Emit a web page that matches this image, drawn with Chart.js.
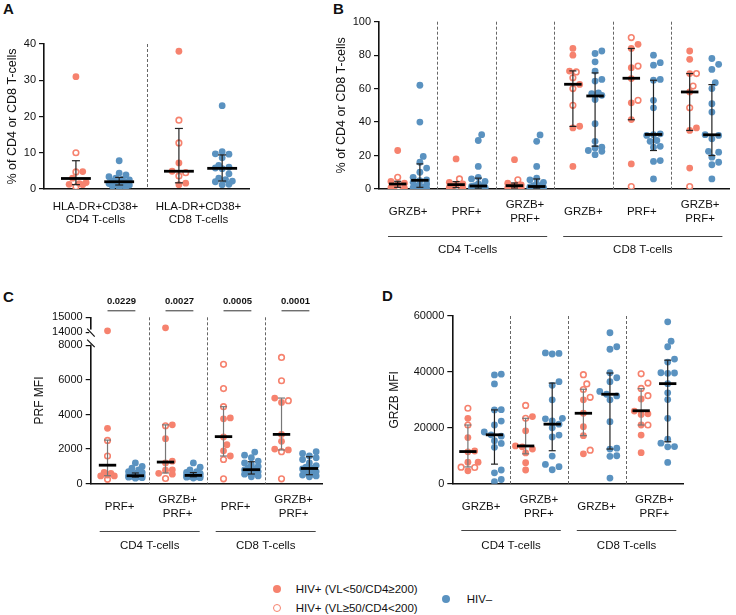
<!DOCTYPE html>
<html>
<head>
<meta charset="utf-8">
<script src="https://cdn.jsdelivr.net/npm/chart.js@4.4.1/dist/chart.umd.min.js"></script>
<style>
  body { margin: 0; background: #fff; width: 736px; height: 615px; position: relative; overflow: hidden;
         font-family: "Liberation Sans", Arial, sans-serif; color: #111; }
  canvas { position: absolute; }
  .panel { position: absolute; font-weight: bold; font-size: 15px; line-height: 16px; }
  .leg { position: absolute; font-size: 11.5px; line-height: 14px; white-space: nowrap; }
  .dot { position: absolute; width: 8.5px; height: 8.5px; border-radius: 50%; box-sizing: border-box; }
</style>
</head>
<body>
<div class="panel" style="left:3px;top:1px">A</div>
<div class="panel" style="left:333px;top:1px">B</div>
<div class="panel" style="left:3px;top:289px">C</div>
<div class="panel" style="left:382px;top:288px">D</div>

<canvas id="cA"></canvas>
<canvas id="cB"></canvas>
<canvas id="cC"></canvas>
<canvas id="cD"></canvas>

<div class="dot" style="left:272.5px;top:584.8px;background:#F6826E"></div>
<div class="leg" style="left:295.7px;top:582px">HIV+ (VL&lt;50/CD4≥200)</div>
<div class="dot" style="left:272.5px;top:603.8px;border:1.6px solid #F6826E;background:#fff"></div>
<div class="leg" style="left:295.7px;top:601px">HIV+ (VL≥50/CD4&lt;200)</div>
<div class="dot" style="left:441.8px;top:594.8px;background:#5A92C0"></div>
<div class="leg" style="left:466.7px;top:592px">HIV–</div>

<script>
// ---------- data ----------
// panel A
const aCats = [['HLA-DR+CD38+', 'CD4 T-cells'], ['HLA-DR+CD38+', 'CD8 T-cells']];
const aYTicks = [0, 10, 20, 30, 40];
const aRedFilled = [[31, 4.8, 3.0, 1.8, 1.5, 1.3, 1.2], [38, 7.2, 4.9, 1.6, 1.2]];
const aRedOpen = [[10, 4.7, 0.6], [19, 12.7, 4.5, 3.6]];
const aBlue = [
  [7.8, 4.4, 3.9, 3.4, 3.0, 2.7, 2.5, 2.2, 2.0, 1.8, 1.5, 1.3, 1.1, 1.0, 0.8, 0.6, 0.5],
  [23, 10.3, 9.7, 9.6, 8.6, 6.5, 6.0, 5.8, 5.6, 4.2, 3.0, 2.6, 2.2, 2.0, 1.3, 1.2]
];
// [q1, median, q3]
const aRedStats = [[1.2, 2.9, 7.8], [1.7, 4.9, 16.7]];
const aBlueStats = [[1.1, 2.0, 3.2], [2.2, 5.7, 9.4]];

// panel B
const bCats = ['GRZB+', 'PRF+', ['GRZB+', 'PRF+'], 'GRZB+', 'PRF+', ['GRZB+', 'PRF+']];
const bGroups = ['CD4 T-cells', 'CD8 T-cells'];
const bYTicks = [0, 20, 40, 60, 80, 100];
const bRedFilled = [
  [23, 4.5, 3.5, 2.5, 1.5, 0.8, 0.5],
  [18, 4, 3, 2.5, 1.5, 1, 0.5],
  [17.5, 3.5, 2.5, 2, 1.2, 0.8, 0.4],
  [84, 80, 70.5, 62.5, 37.5, 36.5, 13.5],
  [86.5, 84, 72.5, 66, 51.5, 41.5, 15],
  [82.5, 77.5, 69, 58, 36.5, 35, 12.5]
];
const bRedOpen = [[7, 1.0, 0.3], [6, 1.2, 0.4], [5.5, 1, 0.3], [70, 66.5, 60, 50], [90.5, 73.5, 53, 1.5], [69, 61.5, 48.5, 1.5]];
const bBlue = [
  [62, 40, 19.5, 16, 12.5, 10, 7, 5.5, 5, 4, 3, 2, 1.5, 1, 0.8, 0.5, 0.3],
  [32.5, 29, 13.5, 7, 6, 4.5, 3, 2, 1.8, 1.5, 1, 0.8, 0.6, 0.5, 0.4, 0.3, 0.2],
  [32.3, 28.5, 13.5, 6.5, 5.5, 4, 3, 2, 1.5, 1.3, 1, 0.8, 0.6, 0.5, 0.4, 0.3, 0.2],
  [82.5, 81, 76, 70.5, 65.5, 64.5, 57.5, 57, 56, 53.5, 39, 28.5, 25, 24.5, 23, 22.5, 20.5],
  [80, 75.5, 74, 65.5, 65, 53, 48.5, 33, 32.5, 32, 29, 28.5, 25.5, 25, 17, 16.5, 6],
  [78, 74.5, 71.5, 63.5, 60, 51, 46, 32.5, 32, 30, 22.5, 22, 19, 16, 14.5, 6]
];
const bRedStats = [[1, 3, 4.6], [0.8, 2.6, 4.4], [0.6, 2, 3.6], [37.4, 62.6, 70.6], [41.4, 66.2, 84], [35, 58, 69]];
const bBlueStats = [[1, 5.2, 15], [0.5, 1.8, 6.5], [0.5, 1.5, 6], [25.6, 55.6, 69.4], [23, 32.6, 65], [20, 32.4, 62.4]];

// panel C
const cCats = ['PRF+', ['GRZB+', 'PRF+'], 'PRF+', ['GRZB+', 'PRF+']];
const cGroups = ['CD4 T-cells', 'CD8 T-cells'];
const cYTicks = [0, 2000, 4000, 6000, 8000];
const cYTopTicks = [14000, 15000];
const cPValues = ['0.0229', '0.0027', '0.0005', '0.0001'];
const cRedFilled = [
  [14100, 3200, 650, 600, 500, 450, 450],
  [14300, 3400, 2600, 1300, 1200, 800, 780, 600, 550],
  [3800, 3750, 2700, 2250, 1900, 1600],
  [4950, 4700, 2850, 2450, 2000, 1950]
];
const cRedOpen = [[2500, 1600, 250], [3350, 300], [6900, 5500, 4450, 1400, 280], [7300, 5950, 4800, 1850, 280]];
const cBlue = [
  [1200, 1000, 900, 800, 700, 650, 600, 550, 500, 480, 460, 440, 420, 400, 380, 350, 320],
  [1200, 950, 800, 700, 650, 600, 550, 520, 500, 480, 460, 440, 420, 400, 380, 350, 330],
  [1830, 1650, 1500, 1300, 1200, 1100, 1000, 900, 850, 800, 750, 700, 650, 600, 550, 450, 400],
  [1850, 1750, 1600, 1500, 1400, 1200, 1050, 950, 880, 850, 800, 700, 650, 550, 500, 450, 400]
];
const cRedStats = [[460, 1070, 2520], [620, 1250, 3400], [1600, 2720, 4450], [1950, 2850, 4950]];
const cBlueStats = [[380, 460, 620], [400, 480, 640], [560, 810, 1270], [520, 880, 1560]];

// panel D
const dCats = ['GRZB+', ['GRZB+', 'PRF+'], 'GRZB+', ['GRZB+', 'PRF+']];
const dGroups = ['CD4 T-cells', 'CD8 T-cells'];
const dYTicks = [0, 20000, 40000, 60000];
const dRedFilled = [
  [23400, 16500, 11700, 11400, 7700, 7700, 4600],
  [24000, 18900, 13500, 13200, 12400, 11000, 7500, 4900],
  [30000, 25200, 20400, 17200, 10700],
  [30300, 26000, 25000, 24800, 21000, 17400, 11100]
];
const dRedOpen = [[27000, 21000, 5900, 5800], [28000, 23400], [39000, 35700, 33700, 30900, 12000], [39300, 36000, 34100, 31500, 21000]];
const dBlue = [
  [39200, 38900, 35700, 26500, 26400, 22400, 21000, 18500, 17500, 17000, 15400, 14400, 13000, 4900, 3900, 1500, 700],
  [46800, 46600, 46400, 36500, 35200, 30000, 23400, 23200, 22500, 21300, 20000, 17400, 16700, 9900, 6900, 6100, 5000],
  [54000, 49000, 48100, 39700, 37900, 36500, 33000, 32000, 31400, 30000, 22200, 12700, 12400, 10000, 9800, 2000],
  [57900, 51000, 49000, 44600, 43500, 39700, 39600, 39500, 35800, 32500, 30100, 23400, 15900, 14500, 13300, 13200, 7600]
];
const dRedStats = [[6000, 11500, 21000], [10700, 13500, 23400], [17200, 25200, 33800], [21000, 26100, 34000]];
const dBlueStats = [[7000, 17500, 26400], [11800, 21300, 36000], [12400, 32000, 39600], [15000, 35800, 44200]];

// ---------- styling / layout ----------
const RED = '#F6826E';
const BLUE = '#5A92C0';
const FONT = '"Liberation Sans", Arial, sans-serif';
const R = 3.4;

Chart.defaults.font.family = FONT;
Chart.defaults.color = '#111';

const panels = {
  cA: {
    left: 0, top: 0, w: 262, h: 232, area: { l: 44, r: 250, t: 44, b: 189 },
    yMin: 0, yMax: 40, yTicks: aYTicks, yTitle: '% of CD4 or CD8 T-cells', titleSize: 12.5, titlePad: 5.5,
    cats: aCats, labelPad: 17.7,
    redFilled: aRedFilled, redOpen: aRedOpen, blue: aBlue, redStats: aRedStats, blueStats: aBlueStats,
    redOff: -0.19, blueOff: 0.23, medHalf: 0.145, cap: 4, maxOff: 13, redBar: '#222'
  },
  cB: {
    left: 328, top: 0, w: 408, h: 270, area: { l: 379, r: 731.7, t: 21.7, b: 189 },
    yMin: 0, yMax: 100, yTicks: bYTicks, yTitle: '% of CD4 or CD8 T-cells', titleSize: 12.5, titlePad: 6.2,
    cats: bCats, labelPad: 16, groups: bGroups, brackets: [[0, 3], [3, 6]], brLine: 47, brText: 61,
    redFilled: bRedFilled, redOpen: bRedOpen, blue: bBlue, redStats: bRedStats, blueStats: bBlueStats,
    redOff: -0.18, blueOff: 0.2, medHalf: 0.15, cap: 3.5, maxOff: 10, redBar: '#222'
  },
  cC: {
    left: 0, top: 282, w: 335, h: 290, area: { l: 90.7, r: 322.7, t: 317.3, b: 483.7 },
    yMin: 0, yMax: 8100, yTicks: cYTicks, topMin: 13250, topMax: 15000, topTicks: cYTopTicks, splitAt: 10000,
    topPx: 26.25, titleText: 'PRF MFI', titleX: 40, titleSize: 12,
    cats: cCats, labelPad: 16.3, groups: cGroups, brackets: [[0, 2], [2, 4]], brLine: 47.3, brText: 62.3,
    pvalues: cPValues,
    redFilled: cRedFilled, redOpen: cRedOpen, blue: cBlue, redStats: cRedStats, blueStats: cBlueStats,
    redOff: -0.21, blueOff: 0.27, medHalf: 0.15, cap: 3.5, maxOff: 9, redBar: '#777'
  },
  cD: {
    left: 370, top: 282, w: 366, h: 290, area: { l: 452.3, r: 683.3, t: 316, b: 483.7 },
    yMin: 0, yMax: 60000, yTicks: dYTicks, yTitle: 'GRZB MFI', titleSize: 12, titlePad: 17.5,
    cats: dCats, labelPad: 16.3, groups: dGroups, brackets: [[0, 2], [2, 4]], brLine: 46.3, brText: 62.3,
    redFilled: dRedFilled, redOpen: dRedOpen, blue: dBlue, redStats: dRedStats, blueStats: dBlueStats,
    redOff: -0.23, blueOff: 0.23, medHalf: 0.15, cap: 3.5, maxOff: 11, redBar: '#777'
  }
};

// spread points of one series sideways so the dots do not pile up
function swarm(vals, center, p) {
  const n = p.cats.length;
  const pxX = (p.area.r - p.area.l) / n;
  const lowH = p.area.b - p.area.t - (p.topPx || 0);
  const pxY = lowH / (p.yMax - p.yMin);
  const cand = [0];
  for (let k = 1; k * R <= p.maxOff; k++) cand.push(k * R, -k * R);
  const placed = [];
  const out = new Array(vals.length);
  const order = vals.map((v, i) => i).sort((a, b) => vals[a] - vals[b]);
  order.forEach(i => {
    const py = vals[i] * pxY;
    let best = 0, bestD = -1;
    for (const off of cand) {
      let d = Infinity;
      placed.forEach(q => { d = Math.min(d, Math.hypot(q.x - off, q.y - py)); });
      if (d >= 2 * R * 0.95) { best = off; bestD = d; break; }
      if (d > bestD) { bestD = d; best = off; }
    }
    placed.push({ x: best, y: py });
    out[i] = center + best / pxX;
  });
  return out;
}

function buildDatasets(p) {
  const rf = [], ro = [], bl = [], top = [];
  p.cats.forEach((c, g) => {
    const reds = p.redFilled[g].map(v => ({ v, open: false })).concat(p.redOpen[g].map(v => ({ v, open: true })));
    const high = reds.filter(r => p.splitAt && r.v > p.splitAt);
    const low = reds.filter(r => !(p.splitAt && r.v > p.splitAt));
    const rc = g + 0.5 + p.redOff;
    const rx = swarm(low.map(r => r.v), rc, p);
    low.forEach((r, i) => (r.open ? ro : rf).push({ x: rx[i], y: r.v }));
    high.forEach(r => top.push({ x: rc, y: r.v }));
    const bc = g + 0.5 + p.blueOff;
    const bx = swarm(p.blue[g], bc, p);
    p.blue[g].forEach((v, i) => bl.push({ x: bx[i], y: v }));
  });
  const filled = { pointRadius: R, pointBackgroundColor: RED, pointBorderWidth: 0, pointBorderColor: RED };
  const sets = [
    Object.assign({ label: 'HIV+ (VL<50/CD4≥200)', data: rf, yAxisID: 'y' }, filled),
    { label: 'HIV+ (VL≥50/CD4<200)', data: ro, yAxisID: 'y', pointRadius: R - 0.6, pointBackgroundColor: '#fff', pointBorderColor: RED, pointBorderWidth: 1.6 },
    { label: 'HIV–', data: bl, yAxisID: 'y', pointRadius: R, pointBackgroundColor: BLUE, pointBorderWidth: 0, pointBorderColor: BLUE }
  ];
  if (top.length) sets.push(Object.assign({ label: 'HIV+ (VL<50/CD4≥200)', data: top, yAxisID: 'yTop' }, filled));
  return sets;
}

function yAxis(p, min, max, ticks, extra) {
  return Object.assign({
    type: 'linear', position: 'left', min: min, max: max,
    afterBuildTicks: s => { s.ticks = ticks.map(v => ({ value: v })); },
    ticks: { font: { size: 11 }, color: '#111', padding: 3, callback: v => String(v) },
    grid: { display: true, drawOnChartArea: false, drawTicks: true, tickLength: 5, color: '#111', lineWidth: 1.2 },
    border: { color: '#111', width: 1.6 },
    afterFit: s => { s.width = p.area.l - p.left; }
  }, extra || {});
}

function line(ctx, x1, y1, x2, y2) {
  ctx.beginPath(); ctx.moveTo(x1, y1); ctx.lineTo(x2, y2); ctx.stroke();
}

const decor = {
  id: 'decor',
  beforeDatasetsDraw(chart) {
    const p = panels[chart.canvas.id], ctx = chart.ctx, a = chart.chartArea, xs = chart.scales.x;
    ctx.save();
    ctx.strokeStyle = '#666'; ctx.lineWidth = 1; ctx.setLineDash([3, 2]);
    for (let i = 1; i < p.cats.length; i++) {
      const x = Math.round(xs.getPixelForValue(i)) + 0.5;
      line(ctx, x, a.top, x, a.bottom);
    }
    ctx.restore();
  },
  afterDatasetsDraw(chart) {
    const p = panels[chart.canvas.id], ctx = chart.ctx, xs = chart.scales.x, ys = chart.scales.y;
    ctx.save();
    const bar = (center, st, color) => {
      const x = xs.getPixelForValue(center);
      const y1 = ys.getPixelForValue(st[0]), ym = ys.getPixelForValue(st[1]), y3 = ys.getPixelForValue(st[2]);
      ctx.strokeStyle = color; ctx.lineWidth = 1.2;
      line(ctx, x, y1, x, y3);
      line(ctx, x - p.cap, y1, x + p.cap, y1);
      line(ctx, x - p.cap, y3, x + p.cap, y3);
      ctx.strokeStyle = '#000'; ctx.lineWidth = 2.8;
      line(ctx, xs.getPixelForValue(center - p.medHalf), ym, xs.getPixelForValue(center + p.medHalf), ym);
    };
    p.cats.forEach((c, g) => {
      bar(g + 0.5 + p.redOff, p.redStats[g], p.redBar);
      bar(g + 0.5 + p.blueOff, p.blueStats[g], '#222');
    });
    ctx.restore();
  },
  afterDraw(chart) {
    const p = panels[chart.canvas.id], ctx = chart.ctx, a = chart.chartArea, xs = chart.scales.x;
    ctx.save();
    ctx.fillStyle = '#111';
    if (p.brackets) {
      ctx.font = '11.5px ' + FONT; ctx.textAlign = 'center'; ctx.textBaseline = 'middle';
      ctx.strokeStyle = '#444'; ctx.lineWidth = 1;
      p.brackets.forEach((br, i) => {
        const x1 = xs.getPixelForValue(br[0]) + 9, x2 = xs.getPixelForValue(br[1]) - 7;
        const y = Math.round(a.bottom + p.brLine) + 0.5;
        line(ctx, x1, y, x2, y);
        ctx.fillText(p.groups[i], (x1 + x2) / 2, a.bottom + p.brText);
      });
    }
    if (p.pvalues) {
      ctx.font = 'bold 9.5px ' + FONT; ctx.textAlign = 'center'; ctx.textBaseline = 'middle';
      ctx.strokeStyle = '#333'; ctx.lineWidth = 1;
      p.pvalues.forEach((t, g) => {
        const x1 = xs.getPixelForValue(g + 0.5 + p.redOff), x2 = xs.getPixelForValue(g + 0.5 + p.blueOff);
        line(ctx, x1, a.top - 6.5, x2, a.top - 6.5);
        ctx.fillText(t, (x1 + x2) / 2, a.top - 16);
      });
    }
    if (p.titleText) {
      ctx.font = p.titleSize + 'px ' + FONT; ctx.textAlign = 'center'; ctx.textBaseline = 'middle';
      ctx.translate(p.titleX - p.left, (a.top + a.bottom) / 2);
      ctx.rotate(-Math.PI / 2);
      ctx.fillText(p.titleText, 0, 0);
      ctx.setTransform(1, 0, 0, 1, 0, 0);
    }
    if (p.topTicks) {
      // axis break marks
      const yb = chart.scales.yTop.bottom, x = a.left;
      ctx.fillStyle = '#fff';
      ctx.fillRect(x - 1.5, yb - 14, 3, 15);
      ctx.strokeStyle = '#111'; ctx.lineWidth = 1.2;
      line(ctx, x - 3.5, yb - 15, x + 4, yb - 7);
      line(ctx, x - 3.5, yb - 4, x + 4, yb + 3.5);
    }
    ctx.restore();
  }
};

function makePanel(id) {
  const p = panels[id];
  const cv = document.getElementById(id);
  cv.width = p.w; cv.height = p.h;
  cv.style.left = p.left + 'px'; cv.style.top = p.top + 'px';
  cv.style.width = p.w + 'px'; cv.style.height = p.h + 'px';
  const n = p.cats.length;
  const scales = {};
  if (p.topTicks) {
    // the scale defined last in a stack sits on top
    scales.y = yAxis(p, p.yMin, p.yMax, p.yTicks, { stack: 'y', stackWeight: p.area.b - p.area.t - p.topPx });
    scales.yTop = yAxis(p, p.topMin, p.topMax, p.topTicks, { stack: 'y', stackWeight: p.topPx });
  } else {
    scales.y = yAxis(p, p.yMin, p.yMax, p.yTicks, {
      title: { display: true, text: p.yTitle, color: '#111', font: { size: p.titleSize, lineHeight: 1.2 },
               padding: { top: p.titlePad, bottom: 0 } }
    });
  }
  scales.x = {
    type: 'linear', position: 'bottom', min: 0, max: n,
    afterBuildTicks: s => { s.ticks = p.cats.map((c, i) => ({ value: i + 0.5 })); },
    ticks: { callback: (v, i) => p.cats[i], font: { size: 11.5, lineHeight: 1.16 }, color: '#111',
             padding: p.labelPad, crossAlign: 'center', maxRotation: 0, autoSkip: false },
    grid: { display: false, drawTicks: false },
    border: { color: '#111', width: 1.6 },
    afterFit: s => { s.height = p.top + p.h - p.area.b; }
  };
  new Chart(cv.getContext('2d'), {
    type: 'scatter',
    data: { datasets: buildDatasets(p) },
    options: {
      responsive: false, animation: false, devicePixelRatio: 1,
      layout: { padding: { left: 0, top: p.area.t - p.top, right: p.left + p.w - p.area.r, bottom: 0 } },
      plugins: { legend: { display: false }, tooltip: { enabled: false } },
      scales: scales
    },
    plugins: [decor]
  });
}

['cA', 'cB', 'cC', 'cD'].forEach(makePanel);
</script>
</body>
</html>
